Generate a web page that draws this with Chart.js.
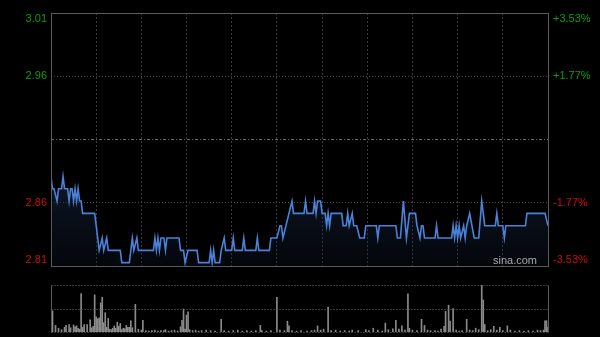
<!DOCTYPE html>
<html>
<head>
<meta charset="utf-8">
<script src="https://cdn.jsdelivr.net/npm/chart.js@4.4.1/dist/chart.umd.min.js"></script>
<style>
  html, body { margin: 0; padding: 0; background: #000; }
  #wrap { position: relative; width: 600px; height: 337px; background: #000; }
  #priceBox { position: absolute; left: 0; top: 0; width: 600px; height: 272px; }
  #volBox { position: absolute; left: 0; top: 280px; width: 600px; height: 57px; }
</style>
</head>
<body>
<div id="wrap">
  <div id="priceBox"><canvas id="priceChart"></canvas></div>
  <div id="volBox"><canvas id="volChart"></canvas></div>
</div>
<script>
// intraday session, minutes from open (HK 9:30-12:00, 13:00-16:00)
const sessionMinutes = 330;
const prevClose = 2.91;
const rangePct = 0.0353;

// price path vertices (minute, price)
const priceMinutes = [
  0, 1, 2, 4, 5, 7, 8, 9, 11, 12, 13, 14, 15, 16, 17, 18, 19, 20, 21, 29,
  30, 32, 34, 35, 37, 38, 46, 47, 52, 53, 54, 55, 57, 58, 68, 69, 70, 71, 72, 73,
  75, 76, 77, 85, 86, 88, 89, 91, 97, 98, 105, 106, 107, 108, 109, 112, 113, 115, 116, 120,
  121, 122, 127, 128, 129, 136, 137, 138, 145, 146, 150, 152, 153, 154, 158, 160, 161, 168, 169, 170,
  174, 175, 176, 177, 179, 180, 182, 183, 184, 185, 186, 193, 194, 196, 197, 198, 200, 201, 203, 205,
  208, 209, 216, 217, 218, 229, 230, 232, 234, 236, 238, 242, 243, 245, 246, 247, 248, 255, 256, 257,
  266, 267, 268, 269, 270, 271, 272, 274, 275, 276, 278, 281, 284, 286, 288, 295, 296, 297, 300, 301,
  302, 315, 316, 328, 330
];
const prices = [
  2.88, 2.87, 2.87, 2.86, 2.87, 2.87, 2.88, 2.87, 2.87, 2.86, 2.87, 2.87, 2.86, 2.87, 2.86, 2.87, 2.86, 2.86, 2.85, 2.85,
  2.84, 2.82, 2.83, 2.82, 2.83, 2.82, 2.82, 2.81, 2.81, 2.82, 2.83, 2.82, 2.83, 2.82, 2.82, 2.83, 2.82, 2.83, 2.82, 2.83,
  2.83, 2.82, 2.83, 2.83, 2.82, 2.82, 2.81, 2.82, 2.82, 2.81, 2.81, 2.82, 2.81, 2.82, 2.81, 2.81, 2.82, 2.83, 2.82, 2.82,
  2.83, 2.82, 2.82, 2.83, 2.82, 2.82, 2.83, 2.82, 2.82, 2.83, 2.83, 2.84, 2.84, 2.83, 2.85, 2.86, 2.85, 2.85, 2.86, 2.85,
  2.85, 2.86, 2.85, 2.86, 2.86, 2.85, 2.85, 2.84, 2.85, 2.84, 2.85, 2.85, 2.84, 2.84, 2.85, 2.84, 2.85, 2.84, 2.84, 2.83,
  2.83, 2.84, 2.84, 2.83, 2.84, 2.84, 2.83, 2.83, 2.86, 2.83, 2.85, 2.85, 2.84, 2.83, 2.84, 2.84, 2.83, 2.83, 2.84, 2.83,
  2.83, 2.84, 2.83, 2.84, 2.83, 2.84, 2.83, 2.84, 2.83, 2.84, 2.85, 2.83, 2.83, 2.86, 2.84, 2.84, 2.85, 2.84, 2.84, 2.83,
  2.84, 2.84, 2.85, 2.85, 2.84
];

// volume bars (minute, relative volume)
const volMinutes = [
  0, 1, 3, 5, 7, 9, 10, 12, 13, 15, 16, 17, 18, 19, 20, 21, 22, 24, 26, 27,
  28, 29, 30, 31, 32, 33, 34, 35, 36, 37, 38, 39, 40, 41, 42, 43, 44, 45, 46, 47,
  48, 49, 50, 51, 52, 53, 54, 56, 58, 60, 61, 63, 65, 67, 69, 71, 73, 75, 76, 78,
  80, 82, 84, 86, 87, 88, 89, 90, 91, 92, 94, 96, 98, 100, 103, 106, 109, 113, 115, 118,
  121, 124, 127, 130, 133, 136, 139, 140, 143, 146, 150, 152, 155, 157, 158, 160, 163, 166, 170, 173,
  175, 177, 179, 181, 184, 186, 189, 192, 195, 198, 200, 204, 209, 211, 214, 217, 220, 222, 224, 227,
  229, 231, 233, 235, 237, 238, 240, 243, 246, 248, 250, 252, 255, 257, 259, 261, 262, 264, 265, 267,
  269, 271, 273, 276, 278, 280, 282, 284, 286, 287, 288, 290, 292, 294, 296, 298, 300, 303, 305, 308,
  311, 314, 317, 320, 323, 325, 327, 328, 329, 330
];
const volumes = [
  84, 45, 14, 8, 5, 10, 14, 16, 9, 15, 11, 13, 8, 6, 82, 10, 16, 16, 26, 9,
  12, 79, 32, 28, 30, 62, 74, 20, 41, 10, 29, 6, 5, 8, 13, 8, 21, 12, 18, 5,
  8, 7, 14, 10, 10, 24, 9, 59, 6, 4, 25, 3, 2, 3, 4, 2, 3, 3, 5, 2,
  3, 4, 2, 11, 25, 49, 6, 36, 43, 5, 3, 4, 2, 3, 4, 3, 2, 27, 3, 2,
  3, 4, 2, 3, 2, 3, 14, 3, 2, 3, 74, 4, 3, 23, 13, 3, 2, 3, 2, 3,
  4, 13, 4, 6, 53, 3, 4, 2, 3, 2, 4, 3, 5, 3, 8, 4, 2, 19, 5, 7,
  25, 6, 13, 4, 81, 8, 4, 3, 27, 14, 4, 3, 3, 2, 6, 12, 44, 57, 23, 50,
  4, 2, 3, 27, 4, 3, 8, 5, 100, 68, 16, 3, 5, 12, 4, 10, 3, 13, 4, 2,
  3, 2, 3, 2, 4, 3, 4, 24, 24, 10
];

const leftLabels = ['3.01', '2.96', '', '2.86', '2.81'];
const rightLabels = ['+3.53%', '+1.77%', '', '-1.77%', '-3.53%'];

const levelValues = [
  prevClose * (1 + rangePct),
  prevClose * (1 + rangePct / 2),
  prevClose,
  prevClose * (1 - rangePct / 2),
  prevClose * (1 - rangePct)
];

const frameColor = '#5a5a5a';
const gridColor = '#3c3c3c';

const framePlugin = {
  id: 'frame',
  afterDraw(chart) {
    const { ctx, chartArea: a } = chart;
    ctx.save();
    ctx.strokeStyle = frameColor;
    ctx.lineWidth = 1;
    ctx.setLineDash([]);
    ctx.strokeRect(Math.round(a.left) + 0.5, Math.round(a.top) + 0.5,
      Math.round(a.right - a.left), Math.round(a.bottom - a.top));
    ctx.restore();
  }
};

const pricePlugin = {
  id: 'priceLabels',
  beforeDatasetsDraw(chart) {
    // prev close reference line
    const { ctx, chartArea: a } = chart;
    const y = Math.round(chart.scales.y.getPixelForValue(prevClose)) + 0.5;
    ctx.save();
    ctx.strokeStyle = '#6a6a6a';
    ctx.lineWidth = 1;
    ctx.setLineDash([3, 2, 1, 2]);
    ctx.beginPath();
    ctx.moveTo(a.left, y);
    ctx.lineTo(a.right, y);
    ctx.stroke();
    ctx.restore();
  },
  afterDraw(chart) {
    const { ctx, chartArea: a } = chart;
    const sy = chart.scales.y;
    ctx.save();
    ctx.font = '11px Arial, "Liberation Sans", sans-serif';
    ctx.textBaseline = 'middle';
    levelValues.forEach((v, i) => {
      let y = sy.getPixelForValue(v);
      y = Math.min(Math.max(y, a.top + 6), a.bottom - 6);
      const color = v > prevClose + 1e-9 ? '#0d9e0d' : (v < prevClose - 1e-9 ? '#c8100c' : '#888');
      ctx.fillStyle = color;
      if (leftLabels[i]) {
        ctx.textAlign = 'right';
        ctx.fillText(leftLabels[i], a.left - 4, y);
      }
      if (rightLabels[i]) {
        ctx.textAlign = 'left';
        ctx.fillText(rightLabels[i], a.right + 5, y);
      }
    });
    ctx.fillStyle = '#a8a8a8';
    ctx.textAlign = 'right';
    ctx.fillText('sina.com', a.right - 11, a.bottom - 5);
    ctx.restore();
  }
};

const priceCtx = document.getElementById('priceChart').getContext('2d');
new Chart(priceCtx, {
  type: 'line',
  data: {
    datasets: [{
      data: priceMinutes.map((m, i) => ({ x: m, y: prices[i] })),
      borderColor: '#4a82d8',
      borderWidth: 1.6,
      pointRadius: 0,
      tension: 0,
      fill: 'start',
      backgroundColor: function (c) {
        const area = c.chart.chartArea;
        if (!area) return 'rgba(20,35,60,0.3)';
        const g = c.chart.ctx.createLinearGradient(0, area.top + 170, 0, area.bottom);
        g.addColorStop(0, 'rgba(30,50,85,0.45)');
        g.addColorStop(1, 'rgba(15,25,45,0.25)');
        return g;
      }
    }]
  },
  options: {
    responsive: true,
    maintainAspectRatio: false,
    animation: false,
    layout: { padding: { left: 51, right: 52, top: 13, bottom: 6 } },
    plugins: { legend: { display: false }, tooltip: { enabled: false } },
    scales: {
      x: {
        type: 'linear',
        min: 0,
        max: sessionMinutes,
        ticks: { display: false, stepSize: 30 },
        grid: {
          drawTicks: false,
          color: c => (c.tick && c.tick.value > 0 && c.tick.value < sessionMinutes) ? gridColor : 'transparent'
        },
        border: { display: false, dash: [2, 2] }
      },
      y: {
        min: levelValues[4],
        max: levelValues[0],
        afterBuildTicks: axis => { axis.ticks = levelValues.map(v => ({ value: v })); },
        ticks: { display: false },
        grid: {
          drawTicks: false,
          color: c => (c.index === 1 || c.index === 3) ? '#4a4a4a' : 'transparent'
        },
        border: { display: false, dash: [1, 2] }
      }
    }
  },
  plugins: [pricePlugin, framePlugin]
});

const volFramePlugin = {
  id: 'volFrame',
  afterDraw(chart) {
    const { ctx, chartArea: a } = chart;
    ctx.save();
    ctx.strokeStyle = frameColor;
    ctx.lineWidth = 1;
    const l = Math.round(a.left) + 0.5, r = Math.round(a.right) + 0.5;
    const t = Math.round(a.top) + 0.5, b = Math.round(a.bottom) + 0.5;
    ctx.beginPath();
    ctx.moveTo(l, t); ctx.lineTo(l, b);
    ctx.moveTo(r, t); ctx.lineTo(r, b);
    ctx.stroke();
    ctx.setLineDash([1, 2]);
    ctx.strokeStyle = '#6a6a6a';
    const mid = Math.round((a.top + a.bottom) / 2) + 0.5;
    ctx.beginPath();
    ctx.moveTo(l, t); ctx.lineTo(r, t);
    ctx.moveTo(l, mid); ctx.lineTo(r, mid);
    ctx.moveTo(l, b); ctx.lineTo(r, b);
    ctx.stroke();
    ctx.restore();
  }
};

const volCtx = document.getElementById('volChart').getContext('2d');
new Chart(volCtx, {
  type: 'bar',
  data: {
    datasets: [{
      data: volMinutes.map((m, i) => ({ x: m, y: volumes[i] })),
      backgroundColor: '#8a8a8a',
      barThickness: 1,
      borderWidth: 0
    }]
  },
  options: {
    responsive: true,
    maintainAspectRatio: false,
    animation: false,
    layout: { padding: { left: 51, right: 52, top: 5, bottom: 5 } },
    plugins: { legend: { display: false }, tooltip: { enabled: false } },
    scales: {
      x: {
        type: 'linear',
        min: 0,
        max: sessionMinutes,
        offset: false,
        ticks: { display: false },
        grid: { display: false, drawTicks: false },
        border: { display: false }
      },
      y: {
        min: 0,
        max: 100,
        ticks: { display: false },
        grid: { display: false, drawTicks: false },
        border: { display: false }
      }
    }
  },
  plugins: [volFramePlugin]
});
</script>
</body>
</html>
